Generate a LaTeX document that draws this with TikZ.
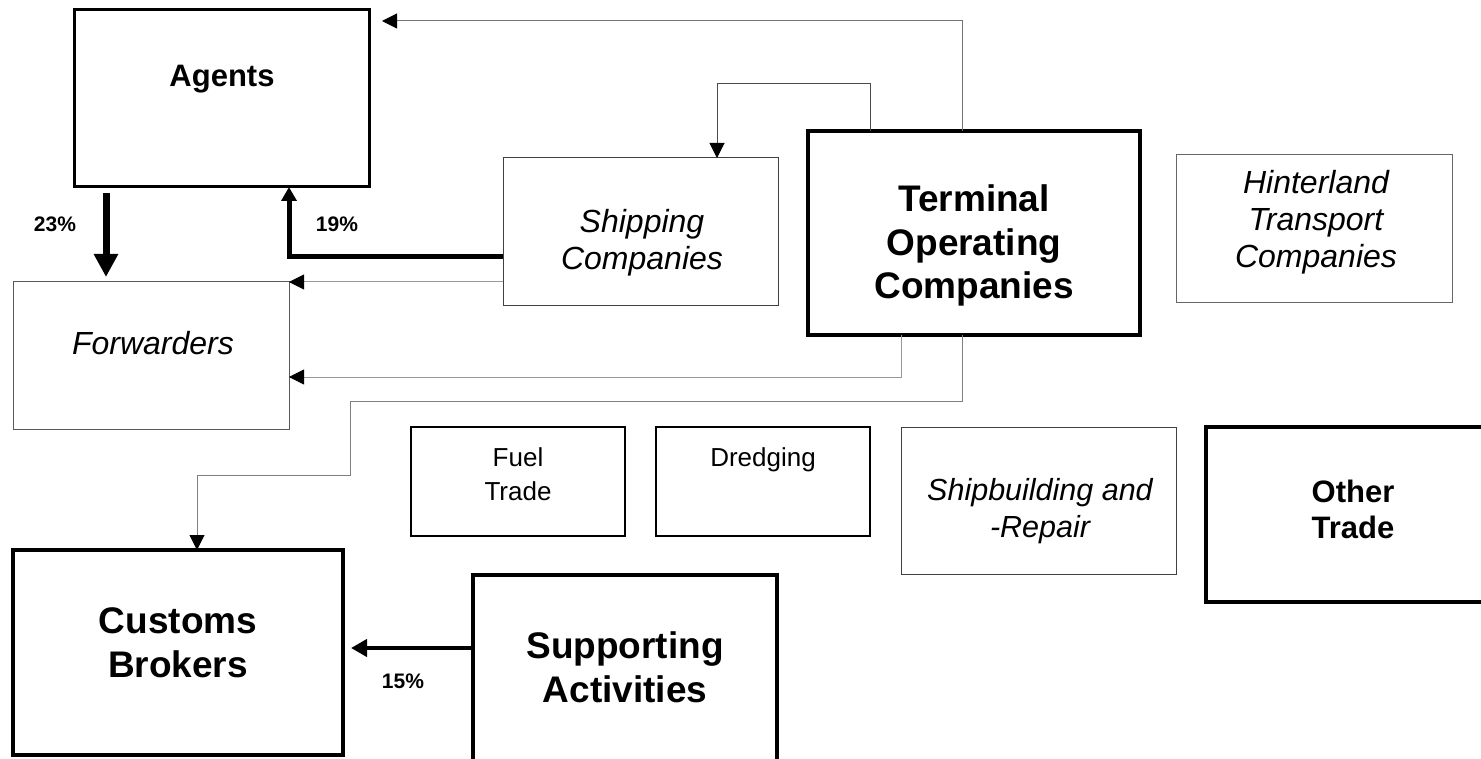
\documentclass[tikz,border=0pt]{standalone}
\usepackage{fontspec}
\setmainfont{Liberation Sans}
\usetikzlibrary{arrows.meta}
\begin{document}
\begin{tikzpicture}[x=1pt,y=-1pt,
  box/.style={draw, rectangle, inner sep=0pt, outer sep=0pt},
  heavybox/.style={box, line width=4pt},
  medbox/.style={box, line width=3pt},
  thinbox/.style={box, line width=1pt, draw=black!70},
  plainbox/.style={box, line width=1.5pt},
  bigtxt/.style={font=\fontsize{37}{43.5}\selectfont\bfseries, align=center, anchor=base},
  midtxt/.style={font=\fontsize{31}{36}\selectfont\bfseries, align=center, anchor=base},
  itxt/.style={font=\fontsize{32}{37}\selectfont\itshape, align=center, anchor=base},
  smtxt/.style={font=\fontsize{26}{34}\selectfont, align=center, anchor=base},
  pct/.style={font=\fontsize{21}{24}\selectfont\bfseries, anchor=base},
  garrow/.style={line width=1pt, -{Triangle[length=15pt,width=15pt,color=black]}},
  bigarrow/.style={line width=7pt, -{Triangle[length=23pt,width=23pt]}},
  arrow19/.style={line width=5pt, -{Triangle[length=14pt,width=15pt]}},
  arrow15/.style={line width=4.5pt, -{Triangle[length=16pt,width=17pt]}}
]
\useasboundingbox[fill=white] (0,0) rectangle (1481,759);
\clip (0,0) rectangle (1481,759);

% boxes
\node[medbox, minimum width=295pt, minimum height=177pt] (agents) at (221.5,98.5) {};
\node[thinbox, draw=black!75, minimum width=275pt, minimum height=148pt] (shipping) at (640.5,232) {};
\node[heavybox, minimum width=332pt, minimum height=204pt] (toc) at (974,233) {};
\node[thinbox, draw=black!60, minimum width=276pt, minimum height=148pt] (hinter) at (1314,229) {};
\node[thinbox, draw=black!65, minimum width=276pt, minimum height=147pt] (forwarders) at (151,355.5) {};
\node[plainbox, minimum width=214pt, minimum height=109pt] (fuel) at (518,481.5) {};
\node[plainbox, minimum width=214pt, minimum height=109pt] (dredging) at (763,481.5) {};
\node[thinbox, draw=black!75, minimum width=275pt, minimum height=147pt] (shipbuild) at (1038.5,500.5) {};
\node[heavybox, minimum width=294pt, minimum height=175pt] (other) at (1353,514.5) {};
\node[heavybox, minimum width=330pt, minimum height=205pt] (customs) at (178,652.5) {};
\node[heavybox, minimum width=304pt, minimum height=205pt] (supporting) at (625,677.5) {};

% texts (base = baseline of the last line)
\node[midtxt] (agents-t) at (222,87) {Agents};
\node[bigtxt] (toc-t) at (974,299) {Terminal\\Operating\\Companies};
\node[itxt] (shipping-t) at (642,270) {Shipping\\Companies};
\node[itxt] (hinter-t) at (1316,268) {Hinterland\\Transport\\Companies};
\node[itxt] (forwarders-t) at (153,355) {Forwarders};
\node[smtxt] (fuel-t) at (518,500) {Fuel\\Trade};
\node[smtxt] (dredging-t) at (763,466) {Dredging};
\node[itxt, font=\fontsize{30.5}{37}\selectfont\itshape] (shipbuild-t) at (1040,537) {Shipbuilding and\\-Repair};
\node[midtxt] (other-t) at (1353,538) {Other\\Trade};
\node[bigtxt] (customs-t) at (178,677) {Customs\\Brokers};
\node[bigtxt] (supporting-t) at (625,702) {Supporting\\Activities};

\node[pct] (p23) at (55,232) {23\%};
\node[pct] (p19) at (337,232) {19\%};
\node[pct] (p15) at (403,688) {15\%};

% waypoints
\coordinate (agin) at (382,21);
\coordinate (t1) at (962,21);
\coordinate (s1) at (870,84);
\coordinate (s2) at (717,84);
\coordinate (c19) at (289,257);
\coordinate (c23) at (106,0);
\coordinate (f2) at (901,377);
\coordinate (k1) at (962,401);
\coordinate (k2) at (350,401);
\coordinate (k3) at (350,475);
\coordinate (k4) at (197,475);
\coordinate (c15) at (0,648);

% connectors
\draw[garrow, draw=black!55] (toc.north -| t1) -- (t1) -- (agin);
\draw[garrow, draw=black!70] (toc.north -| s1) -- (s1) -- (s2) -- (shipping.north -| s2);
\draw[arrow19] (shipping.west |- c19) -- (c19) -- (agents.south -| c19);
\draw[bigarrow, shorten <=6pt, shorten >=5pt] (agents.south -| c23) -- (forwarders.north -| c23);
\draw[garrow, draw=black!40] (shipping.west |- forwarders.north) -- (forwarders.north east);
\draw[garrow, draw=black!40] (toc.south -| f2) -- (f2) -- (forwarders.east |- f2);
\draw[garrow, draw=black!50] (toc.south -| k1) -- (k1) -- (k2) -- (k3) -- (k4) -- (customs.north -| k4);
\draw[arrow15, shorten >=8pt] (supporting.west |- c15) -- (customs.east |- c15);
\end{tikzpicture}
\end{document}
